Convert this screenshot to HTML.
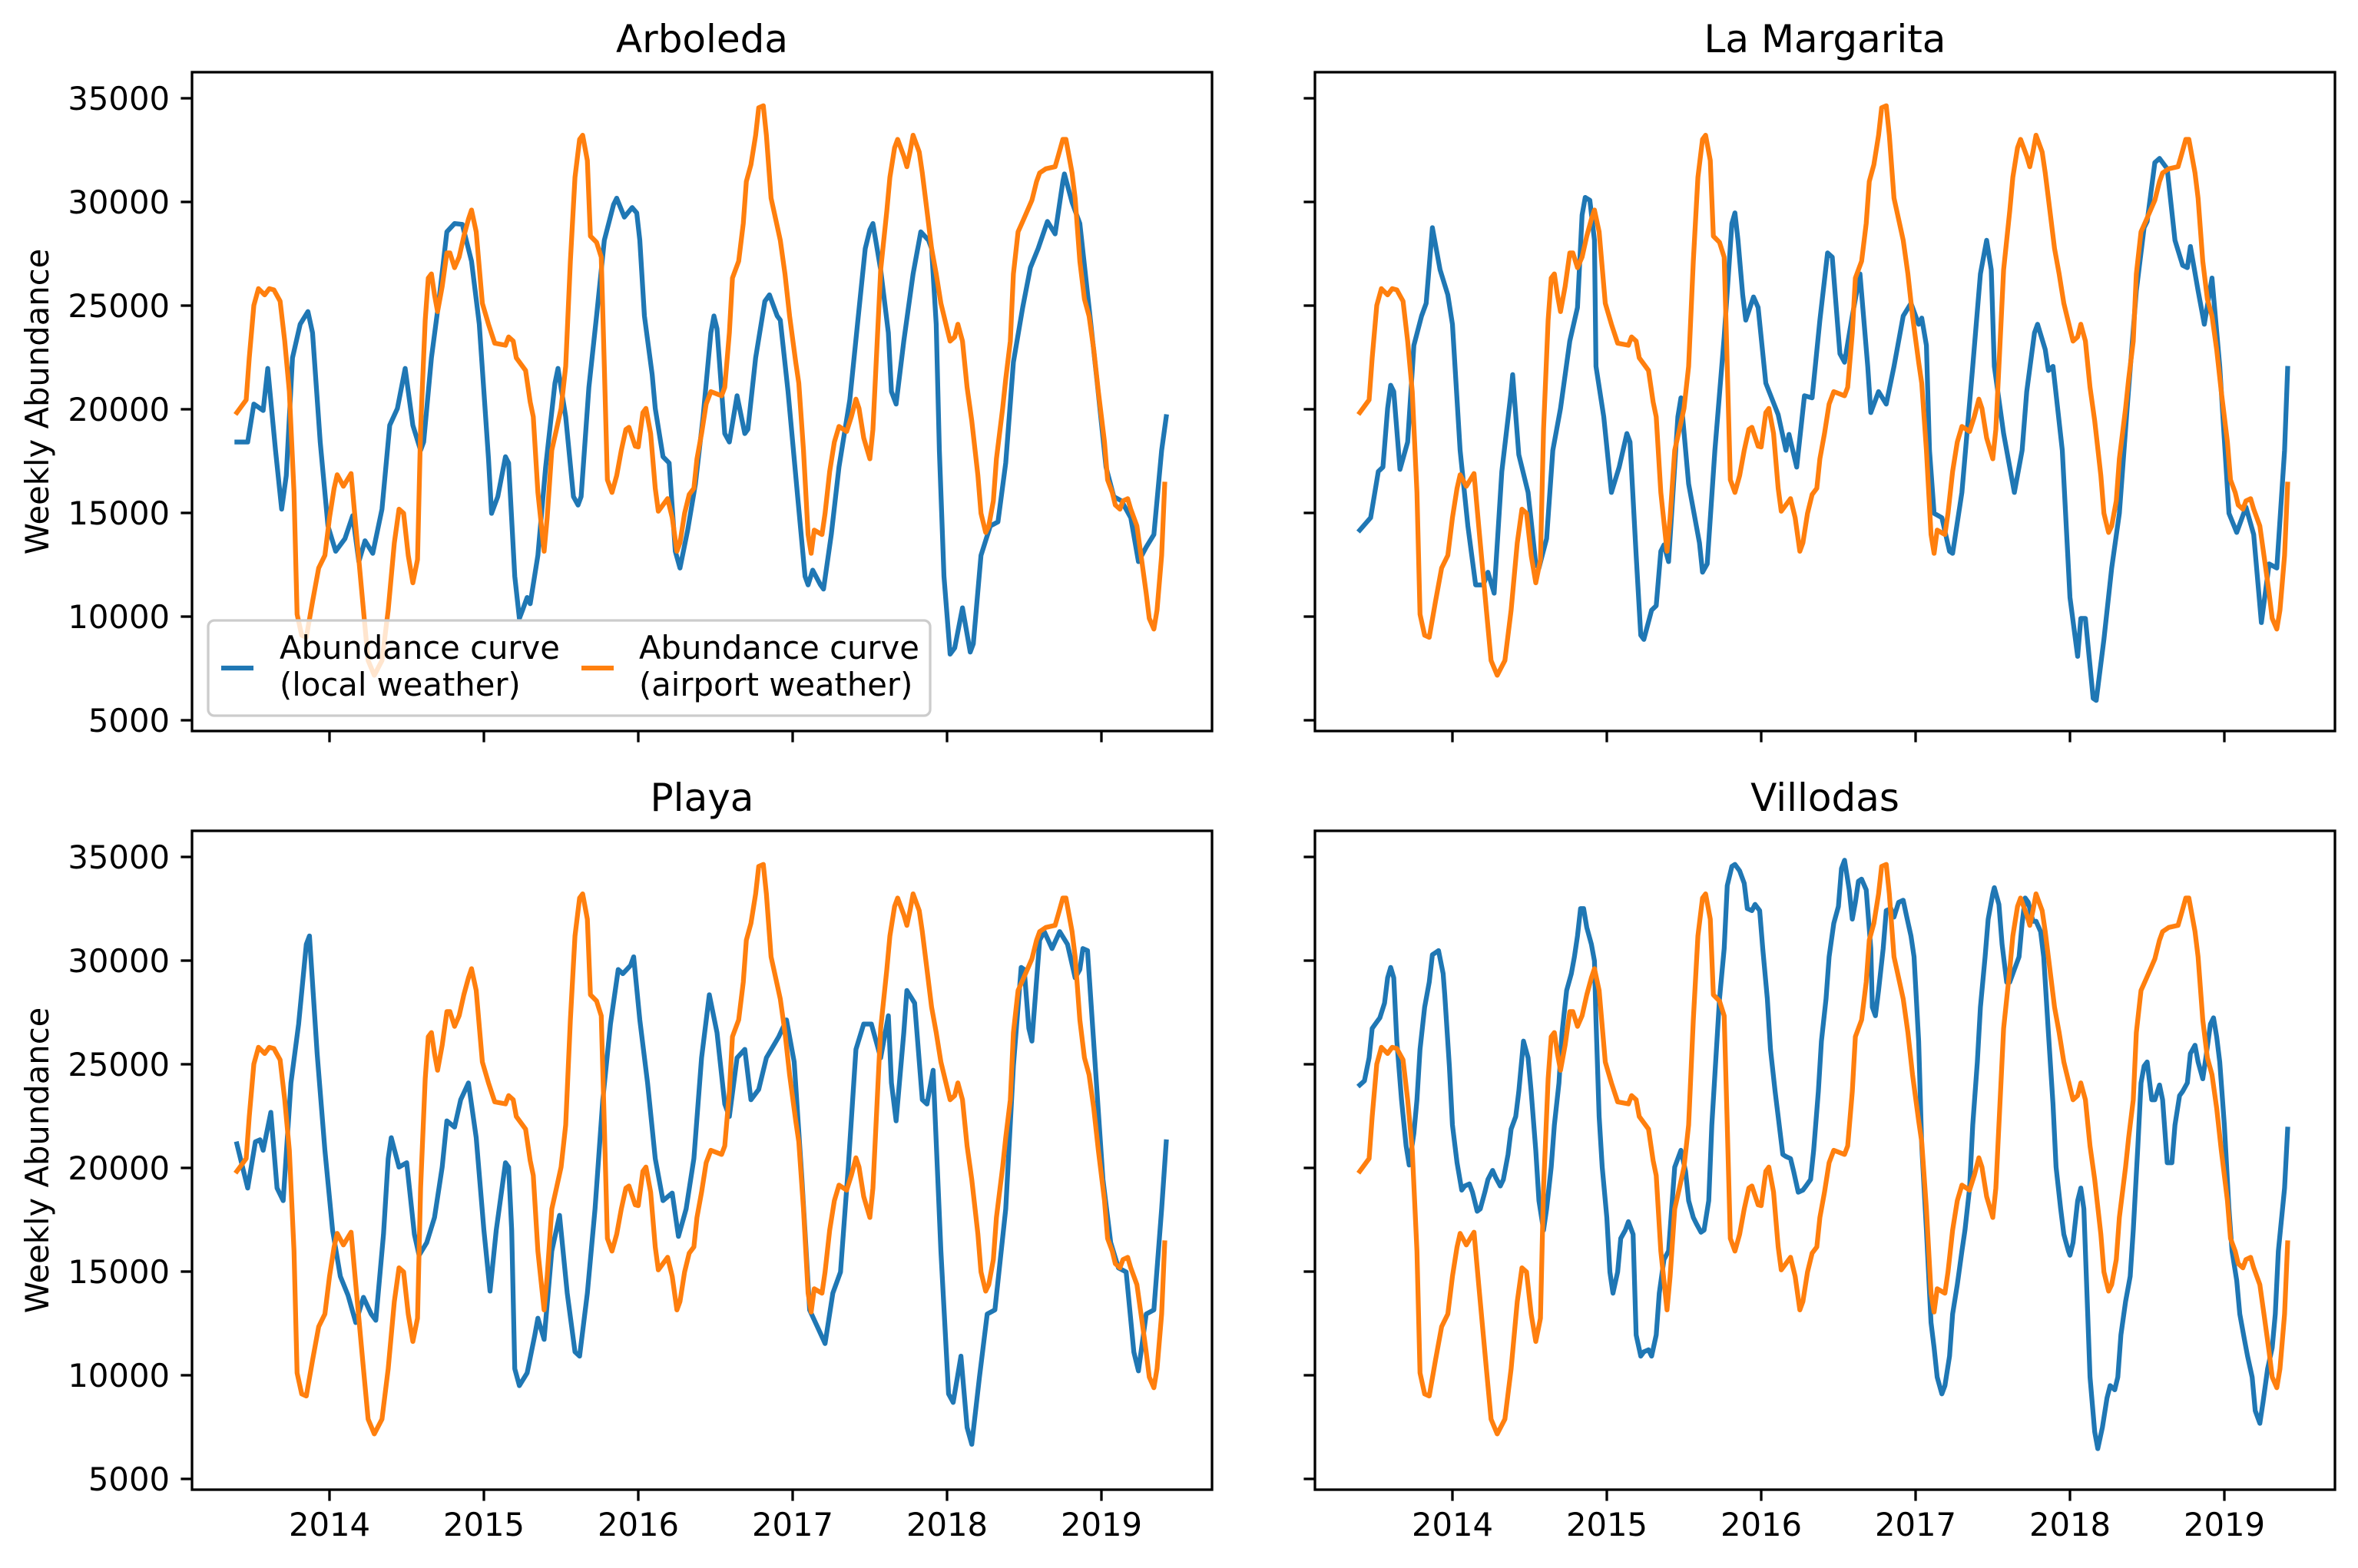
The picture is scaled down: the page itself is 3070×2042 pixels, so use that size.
<!DOCTYPE html>
<html><head><meta charset="utf-8">
<style>
html,body{margin:0;padding:0;background:#fff;}
svg{display:block;font-family:"DejaVu Sans","Liberation Sans",sans-serif;}
</style></head>
<body>
<svg id="fig" width="3070" height="2042" viewBox="0 0 3070 2042" xmlns="http://www.w3.org/2000/svg">
<rect width="3070" height="2042" fill="#fff"/>
</svg>
<script>
// ---- chart data (values in thousands of individuals) ----
const panelTitles = ["Arboleda", "La Margarita", "Playa", "Villodas"];
const yTickValues = [5000, 10000, 15000, 20000, 25000, 30000, 35000];
const xTickYears = [2014, 2015, 2016, 2017, 2018, 2019];

const airportDates = [2013.40,2013.46,2013.48,2013.51,2013.54,2013.58,2013.61,2013.64,2013.68,2013.71,2013.74,2013.77,2013.79,2013.82,2013.85,2013.89,2013.93,2013.97,2014.00,2014.03,2014.05,2014.09,2014.14,2014.17,2014.22,2014.25,2014.29,2014.34,2014.38,2014.42,2014.45,2014.48,2014.51,2014.54,2014.57,2014.59,2014.62,2014.64,2014.66,2014.68,2014.70,2014.73,2014.76,2014.78,2014.81,2014.84,2014.87,2014.90,2014.92,2014.95,2014.99,2015.03,2015.07,2015.14,2015.16,2015.19,2015.21,2015.27,2015.30,2015.32,2015.35,2015.39,2015.41,2015.44,2015.47,2015.50,2015.53,2015.56,2015.59,2015.62,2015.64,2015.67,2015.69,2015.73,2015.76,2015.78,2015.80,2015.83,2015.86,2015.89,2015.92,2015.94,2015.98,2016.00,2016.03,2016.05,2016.08,2016.11,2016.13,2016.19,2016.22,2016.25,2016.27,2016.30,2016.33,2016.36,2016.38,2016.41,2016.44,2016.47,2016.54,2016.56,2016.59,2016.61,2016.65,2016.68,2016.70,2016.73,2016.76,2016.78,2016.81,2016.83,2016.86,2016.89,2016.92,2016.95,2016.98,2017.02,2017.04,2017.07,2017.10,2017.12,2017.14,2017.19,2017.21,2017.24,2017.27,2017.30,2017.35,2017.38,2017.41,2017.43,2017.46,2017.50,2017.52,2017.54,2017.57,2017.61,2017.63,2017.66,2017.68,2017.72,2017.74,2017.76,2017.78,2017.82,2017.84,2017.87,2017.90,2017.93,2017.96,2018.00,2018.02,2018.05,2018.07,2018.10,2018.13,2018.16,2018.20,2018.22,2018.25,2018.27,2018.30,2018.32,2018.36,2018.38,2018.41,2018.43,2018.46,2018.49,2018.52,2018.55,2018.58,2018.60,2018.64,2018.70,2018.72,2018.75,2018.77,2018.81,2018.83,2018.86,2018.89,2018.92,2018.95,2018.98,2019.02,2019.04,2019.07,2019.09,2019.12,2019.14,2019.17,2019.19,2019.23,2019.26,2019.29,2019.31,2019.34,2019.36,2019.39,2019.41];
const airportValuesK = [19.84,20.45,22.47,25.01,25.82,25.52,25.82,25.76,25.21,23.29,20.85,15.99,10.11,9.10,9.00,10.72,12.34,12.95,14.77,16.19,16.84,16.29,16.90,14.37,10.31,7.88,7.17,7.88,10.31,13.56,15.18,14.98,12.95,11.63,12.75,19.03,24.30,26.33,26.53,25.52,24.71,25.92,27.54,27.54,26.83,27.34,28.35,29.17,29.61,28.56,25.11,24.10,23.19,23.09,23.49,23.29,22.48,21.87,20.35,19.64,15.99,13.15,14.77,18.02,19.03,20.04,22.07,27.14,31.19,33.02,33.22,32.00,28.35,28.05,27.34,22.07,16.60,15.99,16.80,18.02,19.03,19.13,18.22,18.18,19.84,20.04,18.83,16.19,15.08,15.69,14.77,13.15,13.56,14.98,15.89,16.19,17.61,18.83,20.25,20.85,20.65,21.06,23.69,26.33,27.14,28.96,30.99,31.80,33.22,34.54,34.64,33.22,30.18,29.17,28.15,26.53,24.50,22.27,21.26,18.02,13.96,13.05,14.17,13.96,14.98,17.00,18.42,19.17,18.93,19.64,20.49,20.04,18.62,17.61,19.03,22.07,26.73,29.57,31.19,32.61,33.02,32.21,31.70,32.41,33.22,32.41,31.40,29.57,27.75,26.53,25.11,23.89,23.29,23.49,24.10,23.29,21.06,19.44,16.80,14.98,14.06,14.37,15.58,17.61,20.04,21.46,23.29,26.53,28.56,29.06,29.57,30.08,30.99,31.40,31.60,31.70,32.21,33.02,33.02,31.40,30.18,27.14,25.31,24.50,22.88,20.85,18.42,16.60,15.99,15.38,15.18,15.58,15.69,15.18,14.37,12.75,11.12,9.91,9.40,10.31,12.95,16.39];

const arboledaDates = [2013.40,2013.47,2013.51,2013.57,2013.60,2013.65,2013.69,2013.72,2013.76,2013.81,2013.86,2013.89,2013.94,2013.99,2014.04,2014.10,2014.15,2014.19,2014.23,2014.28,2014.34,2014.39,2014.44,2014.49,2014.54,2014.59,2014.61,2014.66,2014.71,2014.76,2014.81,2014.86,2014.92,2014.97,2015.03,2015.05,2015.09,2015.14,2015.16,2015.20,2015.23,2015.25,2015.28,2015.30,2015.35,2015.40,2015.46,2015.48,2015.53,2015.58,2015.61,2015.63,2015.68,2015.73,2015.78,2015.84,2015.86,2015.91,2015.96,2015.99,2016.01,2016.04,2016.09,2016.11,2016.16,2016.20,2016.24,2016.27,2016.32,2016.37,2016.42,2016.47,2016.49,2016.51,2016.56,2016.59,2016.64,2016.69,2016.71,2016.76,2016.82,2016.85,2016.90,2016.92,2016.97,2017.03,2017.08,2017.10,2017.13,2017.18,2017.20,2017.25,2017.30,2017.37,2017.42,2017.47,2017.50,2017.52,2017.57,2017.62,2017.64,2017.67,2017.72,2017.78,2017.83,2017.88,2017.90,2017.93,2017.95,2017.98,2018.02,2018.05,2018.10,2018.15,2018.17,2018.22,2018.28,2018.33,2018.38,2018.43,2018.49,2018.54,2018.59,2018.65,2018.70,2018.75,2018.76,2018.81,2018.86,2018.92,2018.97,2019.03,2019.08,2019.13,2019.19,2019.24,2019.29,2019.34,2019.39,2019.42];
const arboledaValuesK = [18.42,18.42,20.25,19.94,21.97,18.02,15.18,16.80,22.48,24.10,24.71,23.69,18.42,14.37,13.15,13.76,14.87,12.65,13.66,13.05,15.18,19.23,20.04,21.97,19.23,18.02,18.42,22.48,25.31,28.56,28.96,28.92,27.14,24.10,17.61,14.98,15.79,17.71,17.41,11.94,9.91,10.31,10.92,10.62,12.95,17.21,21.26,21.97,19.64,15.79,15.38,15.79,21.06,24.50,28.15,29.87,30.18,29.27,29.73,29.47,28.15,24.50,21.67,20.04,17.71,17.41,13.15,12.34,14.17,16.40,19.64,23.69,24.50,23.89,18.83,18.42,20.65,18.83,19.03,22.48,25.21,25.52,24.50,24.30,20.85,15.99,11.94,11.53,12.24,11.53,11.33,13.96,17.21,20.45,24.10,27.75,28.66,28.96,26.73,23.69,20.85,20.25,23.29,26.53,28.56,28.15,27.75,24.10,18.02,11.94,8.19,8.49,10.42,8.29,8.69,12.95,14.37,14.57,17.41,22.27,24.91,26.83,27.75,29.06,28.46,30.99,31.35,29.98,28.96,24.91,21.46,17.21,15.79,15.58,14.77,12.65,13.35,13.96,18.02,19.64];

const margaritaDates = [2013.40,2013.47,2013.52,2013.55,2013.58,2013.60,2013.62,2013.66,2013.71,2013.75,2013.80,2013.83,2013.87,2013.92,2013.97,2014.00,2014.05,2014.10,2014.15,2014.20,2014.23,2014.27,2014.32,2014.38,2014.39,2014.43,2014.49,2014.54,2014.56,2014.61,2014.65,2014.70,2014.76,2014.81,2014.84,2014.86,2014.89,2014.92,2014.93,2014.98,2015.03,2015.08,2015.13,2015.15,2015.19,2015.22,2015.24,2015.29,2015.32,2015.35,2015.37,2015.40,2015.46,2015.48,2015.53,2015.60,2015.62,2015.65,2015.70,2015.76,2015.81,2015.83,2015.85,2015.88,2015.90,2015.95,2015.98,2016.03,2016.11,2016.16,2016.18,2016.23,2016.28,2016.33,2016.38,2016.43,2016.46,2016.51,2016.54,2016.59,2016.64,2016.69,2016.71,2016.76,2016.81,2016.86,2016.92,2016.97,2017.02,2017.04,2017.07,2017.09,2017.12,2017.17,2017.22,2017.24,2017.30,2017.37,2017.42,2017.46,2017.49,2017.51,2017.57,2017.62,2017.64,2017.69,2017.72,2017.77,2017.79,2017.84,2017.86,2017.89,2017.95,2018.00,2018.05,2018.07,2018.10,2018.15,2018.17,2018.22,2018.27,2018.32,2018.37,2018.43,2018.48,2018.50,2018.55,2018.58,2018.63,2018.68,2018.73,2018.76,2018.78,2018.83,2018.87,2018.92,2018.97,2019.03,2019.08,2019.14,2019.19,2019.24,2019.29,2019.34,2019.39,2019.41];
const margaritaValuesK = [14.17,14.77,17.00,17.21,20.04,21.16,20.85,17.10,18.42,23.08,24.50,25.11,28.76,26.73,25.52,24.10,18.02,14.37,11.53,11.53,12.14,11.13,17.00,20.85,21.67,17.81,15.99,12.54,12.34,13.76,18.02,20.04,23.29,24.91,29.37,30.22,30.08,28.15,22.07,19.64,15.99,17.21,18.83,18.42,12.95,9.10,8.90,10.31,10.52,13.15,13.46,12.65,19.64,20.55,16.40,13.56,12.14,12.54,18.02,23.49,28.96,29.47,28.15,25.52,24.30,25.42,24.91,21.26,19.74,18.02,18.79,17.21,20.65,20.55,24.30,27.54,27.34,22.68,22.27,24.50,26.53,22.07,19.84,20.85,20.25,22.07,24.50,25.11,24.10,24.40,23.08,18.02,14.98,14.77,13.15,13.05,15.99,22.07,26.53,28.15,26.73,22.07,18.83,16.80,15.99,18.02,20.85,23.69,24.10,22.88,21.87,22.07,18.02,10.92,8.08,9.91,9.91,6.06,5.96,8.90,12.34,14.98,20.04,25.72,28.76,29.06,31.90,32.10,31.60,28.15,26.94,26.83,27.85,25.72,24.10,26.33,22.07,14.98,14.06,15.28,13.96,9.71,12.54,12.34,18.02,21.97];

const playaDates = [2013.40,2013.47,2013.52,2013.55,2013.57,2013.62,2013.66,2013.70,2013.75,2013.80,2013.85,2013.87,2013.92,2013.97,2014.02,2014.07,2014.12,2014.17,2014.22,2014.27,2014.30,2014.35,2014.38,2014.40,2014.45,2014.50,2014.55,2014.58,2014.63,2014.68,2014.73,2014.76,2014.81,2014.85,2014.90,2014.95,2015.00,2015.04,2015.08,2015.14,2015.16,2015.18,2015.20,2015.23,2015.28,2015.33,2015.35,2015.39,2015.44,2015.49,2015.54,2015.59,2015.62,2015.67,2015.72,2015.77,2015.82,2015.87,2015.90,2015.95,2015.97,2016.01,2016.06,2016.11,2016.16,2016.22,2016.26,2016.31,2016.36,2016.41,2016.46,2016.51,2016.56,2016.59,2016.64,2016.69,2016.73,2016.78,2016.83,2016.91,2016.96,2017.01,2017.06,2017.11,2017.16,2017.21,2017.26,2017.31,2017.36,2017.41,2017.46,2017.51,2017.57,2017.62,2017.64,2017.67,2017.72,2017.74,2017.79,2017.84,2017.87,2017.91,2017.96,2018.01,2018.04,2018.09,2018.13,2018.16,2018.21,2018.26,2018.31,2018.38,2018.43,2018.48,2018.50,2018.53,2018.55,2018.60,2018.63,2018.68,2018.73,2018.78,2018.83,2018.86,2018.88,2018.91,2018.96,2019.01,2019.06,2019.11,2019.16,2019.21,2019.24,2019.29,2019.34,2019.39,2019.42];
const playaValuesK = [21.16,19.03,21.26,21.36,20.85,22.68,19.03,18.42,24.10,26.94,30.79,31.19,25.52,20.85,17.00,14.77,13.86,12.54,13.76,12.95,12.65,16.80,20.45,21.46,20.04,20.25,16.80,15.79,16.40,17.61,20.04,22.27,21.97,23.29,24.10,21.46,17.00,14.06,17.00,20.25,20.04,17.00,10.31,9.50,10.11,11.94,12.75,11.73,15.99,17.71,13.96,11.13,10.92,13.96,18.02,23.29,26.94,29.57,29.37,29.77,30.18,27.14,24.10,20.45,18.42,18.79,16.70,18.02,20.45,25.31,28.35,26.53,23.08,22.48,25.31,25.72,23.29,23.79,25.31,26.33,27.14,25.11,19.44,13.15,12.34,11.53,13.96,14.98,20.04,25.72,26.94,26.94,25.31,27.34,24.10,22.27,26.53,28.56,27.95,23.29,23.08,24.71,15.99,9.10,8.69,10.92,7.48,6.67,9.91,12.95,13.15,18.02,24.91,29.67,29.57,26.73,26.12,30.99,31.40,30.58,31.40,30.79,29.17,29.57,30.58,30.48,24.91,19.44,16.40,15.18,14.98,11.12,10.21,12.95,13.15,18.02,21.26];

const villodasDates = [2013.40,2013.43,2013.46,2013.48,2013.51,2013.53,2013.56,2013.58,2013.60,2013.62,2013.64,2013.67,2013.70,2013.72,2013.75,2013.77,2013.79,2013.82,2013.85,2013.87,2013.89,2013.91,2013.94,2013.95,2013.98,2014.00,2014.03,2014.06,2014.08,2014.11,2014.13,2014.16,2014.18,2014.21,2014.23,2014.26,2014.28,2014.31,2014.33,2014.36,2014.38,2014.41,2014.43,2014.46,2014.49,2014.51,2014.54,2014.56,2014.59,2014.61,2014.64,2014.66,2014.69,2014.71,2014.74,2014.77,2014.79,2014.81,2014.83,2014.85,2014.87,2014.90,2014.92,2014.93,2014.95,2014.97,2015.00,2015.02,2015.04,2015.07,2015.09,2015.12,2015.14,2015.17,2015.19,2015.22,2015.24,2015.27,2015.29,2015.32,2015.34,2015.37,2015.40,2015.42,2015.44,2015.48,2015.51,2015.53,2015.56,2015.58,2015.61,2015.63,2015.66,2015.68,2015.71,2015.73,2015.76,2015.78,2015.81,2015.83,2015.86,2015.89,2015.91,2015.94,2015.96,2015.99,2016.01,2016.04,2016.06,2016.09,2016.11,2016.14,2016.16,2016.19,2016.21,2016.24,2016.27,2016.29,2016.32,2016.34,2016.37,2016.39,2016.42,2016.44,2016.47,2016.50,2016.52,2016.54,2016.57,2016.59,2016.61,2016.63,2016.65,2016.68,2016.71,2016.72,2016.74,2016.76,2016.79,2016.81,2016.84,2016.86,2016.89,2016.92,2016.94,2016.97,2016.99,2017.02,2017.04,2017.07,2017.10,2017.12,2017.14,2017.17,2017.19,2017.22,2017.24,2017.27,2017.30,2017.32,2017.35,2017.37,2017.40,2017.42,2017.45,2017.47,2017.50,2017.51,2017.54,2017.56,2017.59,2017.61,2017.64,2017.67,2017.69,2017.71,2017.73,2017.76,2017.78,2017.81,2017.83,2017.86,2017.89,2017.91,2017.94,2017.96,2017.99,2018.00,2018.02,2018.05,2018.07,2018.09,2018.11,2018.13,2018.16,2018.18,2018.21,2018.24,2018.26,2018.29,2018.31,2018.33,2018.36,2018.39,2018.41,2018.44,2018.46,2018.48,2018.50,2018.53,2018.55,2018.58,2018.60,2018.63,2018.66,2018.68,2018.71,2018.73,2018.76,2018.78,2018.81,2018.83,2018.86,2018.88,2018.91,2018.93,2018.95,2018.97,2019.00,2019.03,2019.05,2019.08,2019.10,2019.13,2019.15,2019.18,2019.20,2019.23,2019.25,2019.28,2019.31,2019.33,2019.35,2019.39,2019.41];
const villodasValuesK = [24.00,24.20,25.31,26.73,27.04,27.24,27.95,29.17,29.67,29.17,26.12,23.29,21.06,20.14,21.67,23.29,25.72,27.75,28.96,30.28,30.38,30.48,29.37,28.35,24.91,22.07,20.25,18.93,19.13,19.23,18.83,17.91,18.02,18.83,19.44,19.88,19.54,19.13,19.44,20.65,21.87,22.48,23.69,26.12,25.31,23.69,20.85,18.42,17.00,18.02,20.04,22.07,24.10,26.53,28.56,29.37,30.18,31.19,32.51,32.51,31.60,30.79,29.98,27.14,22.48,20.04,17.61,14.98,13.96,14.98,16.60,17.00,17.41,16.80,11.94,10.92,11.13,11.23,10.92,11.94,13.96,15.58,15.99,18.02,20.04,20.85,19.84,18.42,17.61,17.31,16.90,17.00,18.42,22.07,25.72,28.15,30.58,33.62,34.54,34.64,34.33,33.73,32.51,32.41,32.71,32.41,30.58,28.15,25.72,23.69,22.48,20.65,20.55,20.45,19.84,18.83,18.93,19.13,19.44,20.85,23.69,26.12,28.15,30.18,31.80,32.61,34.44,34.84,33.42,32.00,32.81,33.83,33.93,33.42,30.58,27.75,27.34,28.56,30.58,32.41,32.51,32.10,32.81,32.91,32.21,31.19,30.18,26.12,21.06,17.00,12.54,11.33,9.91,9.10,9.50,10.92,12.95,14.37,15.99,17.00,19.03,22.07,25.11,27.75,30.18,32.00,33.22,33.52,32.71,30.79,28.96,28.96,29.57,30.18,31.80,33.02,32.81,31.90,31.90,31.40,30.18,26.53,23.08,20.04,18.02,16.80,15.99,15.79,16.40,18.42,19.03,18.02,13.96,9.91,7.27,6.46,7.48,8.90,9.50,9.30,9.91,11.94,13.56,14.77,17.00,21.06,24.10,24.91,25.11,23.29,23.29,24.00,23.29,20.25,20.25,22.07,23.49,23.69,24.10,25.52,25.92,25.11,24.30,25.31,26.94,27.24,26.33,25.11,22.07,18.02,15.99,14.57,12.95,11.73,10.92,9.91,8.29,7.68,8.69,10.31,11.33,12.95,15.99,19.03,21.87];

// ---- drawing ----
const NS = "http://www.w3.org/2000/svg";
const svg = document.getElementById("fig");
const PW = 1328, PH = 858;
const YMIN = 4481, YMAX = 36259;
const panels = [
  {x0: 250, y0: 94, title: panelTitles[0], dates: arboledaDates, vals: arboledaValuesK, yLabels: true, xLabels: false, legend: true},
  {x0: 1712, y0: 94, title: panelTitles[1], dates: margaritaDates, vals: margaritaValuesK, yLabels: false, xLabels: false, legend: false},
  {x0: 250, y0: 1082, title: panelTitles[2], dates: playaDates, vals: playaValuesK, yLabels: true, xLabels: true, legend: false},
  {x0: 1712, y0: 1082, title: panelTitles[3], dates: villodasDates, vals: villodasValuesK, yLabels: false, xLabels: true, legend: false}
];
function mk(tag, attrs, parent) {
  const e = document.createElementNS(NS, tag);
  for (const k in attrs) e.setAttribute(k, attrs[k]);
  (parent || svg).appendChild(e);
  return e;
}
function xScale(p, yr) { return p.x0 + 179 + (yr - 2014) * 201; }
function yScale(p, v) { return p.y0 + (YMAX - v) / (YMAX - YMIN) * PH; }
function pathFor(p, dates, valsK) {
  let d = "";
  for (let i = 0; i < dates.length; i++) {
    d += (i ? "L" : "M") + xScale(p, dates[i]).toFixed(1) + "," + yScale(p, valsK[i] * 1000).toFixed(1);
  }
  return d;
}
const slugs = ["arboleda", "la-margarita", "playa", "villodas"];
panels.forEach((p, idx) => {
  const g = mk("g", {});
  
  
  const t = mk("text", {x: p.x0 + PW / 2, y: p.y0 - 26, "text-anchor": "middle", "font-size": "50", fill: "#000"}, g);
  t.textContent = p.title;
  
  
  // y ticks
  yTickValues.forEach(v => {
    const y = yScale(p, v);
    const tk = mk("line", {x1: p.x0, x2: p.x0 - 14.6, y1: y, y2: y, stroke: "#000", "stroke-width": 3.3}, g);
    
    
    if (p.yLabels) {
      const tl = mk("text", {x: p.x0 - 29, y: y + 15, "text-anchor": "end", "font-size": "41.7", fill: "#000"}, g);
      tl.textContent = v;
      
      
    }
  });
  // x ticks
  xTickYears.forEach(yr => {
    const x = xScale(p, yr);
    const tk = mk("line", {x1: x, x2: x, y1: p.y0 + PH, y2: p.y0 + PH + 14.6, stroke: "#000", "stroke-width": 3.3}, g);
    
    
    if (p.xLabels) {
      const tl = mk("text", {x: x, y: p.y0 + PH + 60, "text-anchor": "middle", "font-size": "41.7", fill: "#000"}, g);
      tl.textContent = yr;
      
      
    }
  });
  if (p.yLabels) {
    const cy = p.y0 + PH / 2;
    const yl = mk("text", {x: 0, y: 0, transform: "translate(63," + cy + ") rotate(-90)", "text-anchor": "middle", "font-size": "41.7", fill: "#000"}, g);
    yl.textContent = "Weekly Abundance";
    
    
  }
  const clipId = "clip" + idx;
  const cp = mk("clipPath", {id: clipId}, g);
  mk("rect", {x: p.x0, y: p.y0, width: PW, height: PH}, cp);
  const lb = mk("path", {d: pathFor(p, p.dates, p.vals), fill: "none", stroke: "#1f77b4", "stroke-width": 6.25, "stroke-linejoin": "round", "stroke-linecap": "square", "clip-path": "url(#" + clipId + ")"}, g);
  
  
  const lo = mk("path", {d: pathFor(p, airportDates, airportValuesK), fill: "none", stroke: "#ff7f0e", "stroke-width": 6.25, "stroke-linejoin": "round", "stroke-linecap": "square", "clip-path": "url(#" + clipId + ")"}, g);
  
  
  const fr = mk("rect", {x: p.x0, y: p.y0, width: PW, height: PH, fill: "none", stroke: "#000", "stroke-width": 3.3}, g);
  
  
  if (p.legend) {
    const lg = mk("g", {}, g);
    
    
    mk("rect", {x: 271, y: 808, width: 940, height: 124, rx: 8, fill: "#fff", "fill-opacity": 0.8, stroke: "#ccc", "stroke-width": 3.3}, lg);
    const e1 = mk("g", {}, lg);
    
    
    mk("line", {x1: 288, x2: 330, y1: 870, y2: 870, stroke: "#1f77b4", "stroke-width": 6.25}, e1);
    const t1 = mk("text", {x: 364, y: 858, "font-size": "41.7", fill: "#000"}, e1);
    t1.textContent = "Abundance curve";
    const t1b = mk("text", {x: 364, y: 906, "font-size": "41.7", fill: "#000"}, e1);
    t1b.textContent = "(local weather)";
    const e2 = mk("g", {}, lg);
    
    
    mk("line", {x1: 757, x2: 799, y1: 870, y2: 870, stroke: "#ff7f0e", "stroke-width": 6.25}, e2);
    const t2 = mk("text", {x: 832, y: 858, "font-size": "41.7", fill: "#000"}, e2);
    t2.textContent = "Abundance curve";
    const t2b = mk("text", {x: 832, y: 906, "font-size": "41.7", fill: "#000"}, e2);
    t2b.textContent = "(airport weather)";
  }
});
</script>
</body></html>
